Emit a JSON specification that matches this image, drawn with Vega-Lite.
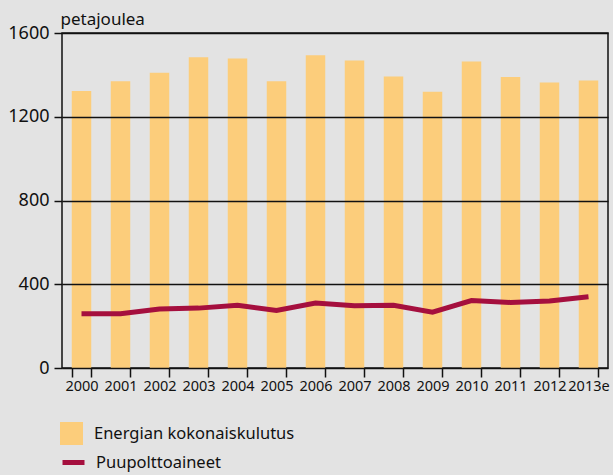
{
  "$schema": "https://vega.github.io/schema/vega-lite/v6.json",
  "width": 546,
  "height": 335,
  "autosize": {"type": "none"},
  "padding": {"left": 62, "top": 33, "right": 5, "bottom": 107},
  "background": "#e3e3e3",
  "config": {
    "font": "Noto Sans",
    "view": {"stroke": "#111111", "strokeWidth": 1.5, "fill": "#e3e3e3"}
  },
  "data": {
    "values": [
      {"year": "2000", "total": 1323, "wood": 259},
      {"year": "2001", "total": 1370, "wood": 259},
      {"year": "2002", "total": 1410, "wood": 282},
      {"year": "2003", "total": 1484, "wood": 286},
      {"year": "2004", "total": 1478, "wood": 300},
      {"year": "2005", "total": 1369, "wood": 275},
      {"year": "2006", "total": 1494, "wood": 310},
      {"year": "2007", "total": 1469, "wood": 297},
      {"year": "2008", "total": 1392, "wood": 300},
      {"year": "2009", "total": 1320, "wood": 267},
      {"year": "2010", "total": 1464, "wood": 322},
      {"year": "2011", "total": 1390, "wood": 313},
      {"year": "2012", "total": 1363, "wood": 320},
      {"year": "2013e", "total": 1373, "wood": 340}
    ]
  },
  "layer": [
    {
      "mark": {"type": "bar"},
      "encoding": {
        "x": {
          "field": "year", "type": "ordinal",
          "scale": {"paddingInner": 0.5, "paddingOuter": 0.25},
          "axis": {
            "title": null, "labelAngle": 0, "tickBand": "extent",
            "domain": false, "ticks": true, "tickColor": "#111111", "tickWidth": 1.5, "tickSize": 9,
            "labelFontSize": 14.5, "labelColor": "#111111", "labelPadding": 2, "grid": false
          }
        },
        "y": {
          "field": "total", "type": "quantitative",
          "scale": {"domain": [0, 1600], "nice": false},
          "axis": {
            "values": [0, 400, 800, 1200, 1600], "format": "d",
            "grid": true, "gridColor": "#111111", "gridWidth": 1.5, "gridOpacity": 1,
            "domain": false, "tickColor": "#111111", "tickWidth": 1.5, "tickSize": 8,
            "labelFontSize": 18, "labelColor": "#111111", "labelPadding": 5,
            "title": "petajoulea", "titleAngle": 0, "titleAlign": "left", "titleBaseline": "alphabetic",
            "titleX": -2, "titleY": -9, "titleFontSize": 17, "titleFontWeight": "normal", "titleColor": "#111111",
            "zindex": 1
          }
        },
        "fill": {
          "datum": "Energian kokonaiskulutus",
          "scale": {"range": ["#fccd7b"]},
          "legend": {
            "orient": "none", "legendX": -2, "legendY": 389, "title": null,
            "symbolType": "square", "symbolSize": 529, "symbolStrokeWidth": 0,
            "labelFontSize": 16.5, "labelColor": "#111111", "labelOffset": 11, "labelLimit": 0
          }
        }
      }
    },
    {
      "mark": {"type": "line", "strokeWidth": 5},
      "encoding": {
        "x": {"field": "year", "type": "ordinal"},
        "y": {"field": "wood", "type": "quantitative"},
        "stroke": {
          "datum": "Puupolttoaineet",
          "scale": {"range": ["#a50f3e"]},
          "legend": {
            "orient": "none", "legendX": -2, "legendY": 416, "title": null,
            "symbolType": "stroke", "symbolSize": 484, "symbolStrokeWidth": 5,
            "labelFontSize": 16.5, "labelColor": "#111111", "labelOffset": 9, "labelLimit": 0
          }
        }
      }
    }
  ]
}
